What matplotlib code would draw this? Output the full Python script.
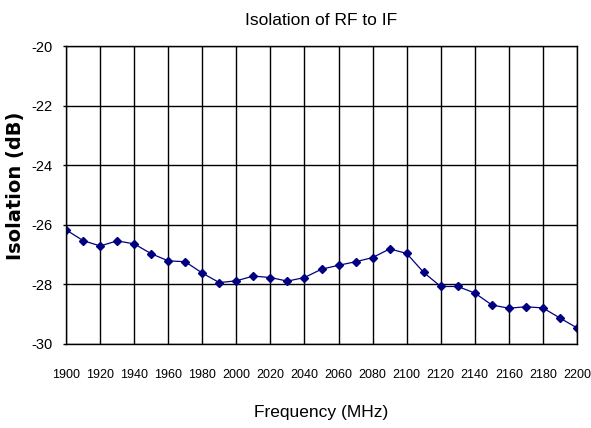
import matplotlib
matplotlib.use("Agg")
import matplotlib.pyplot as plt

freq_mhz = [1900, 1910, 1920, 1930, 1940, 1950, 1960, 1970, 1980, 1990,
            2000, 2010, 2020, 2030, 2040, 2050, 2060, 2070, 2080, 2090,
            2100, 2110, 2120, 2130, 2140, 2150, 2160, 2170, 2180, 2190, 2200]
isolation_db = [-26.17, -26.53, -26.71, -26.54, -26.64, -26.97, -27.21, -27.24, -27.62, -27.94,
                -27.88, -27.72, -27.77, -27.89, -27.77, -27.49, -27.36, -27.24, -27.10, -26.81,
                -26.96, -27.60, -28.07, -28.07, -28.29, -28.69, -28.80, -28.75, -28.79, -29.13,
                -29.46]
x_ticks = list(range(1900, 2201, 20))
y_ticks = [-30, -28, -26, -24, -22, -20]

plt.rcParams['font.family'] = ['Liberation Sans', 'DejaVu Sans']
plt.rcParams['axes.unicode_minus'] = False

fig = plt.figure(figsize=(5.91, 4.28), dpi=100)
ax = fig.add_axes([0.1117, 0.1963, 0.8646, 0.6962])

ax.plot(freq_mhz, isolation_db, color='#000080', linewidth=0.9,
        marker='D', markersize=4.5, markerfacecolor='#000080', markeredgecolor='#000080')

ax.set_xlim(1900, 2200)
ax.set_ylim(-30, -20)
ax.set_xticks(x_ticks)
ax.set_yticks(y_ticks)
ax.grid(True, color='black', linewidth=1.0)
ax.tick_params(axis='x', length=0, labelsize=9, pad=18)
ax.tick_params(axis='y', length=2.5, width=1.0, labelsize=10.5, pad=7)
for s in ax.spines.values():
    s.set_linewidth(1.0)
    s.set_color('black')

ax.set_title("Isolation of RF to IF", fontsize=12.5, pad=15)
ax.set_xlabel("Frequency (MHz)", fontsize=12.5, labelpad=17)
ax.set_ylabel("Isolation (dB)", fontsize=14, fontweight='bold', family='DejaVu Sans')
ax.yaxis.set_label_coords(-0.080, 0.53)

fig.savefig("out.png", dpi=100)
